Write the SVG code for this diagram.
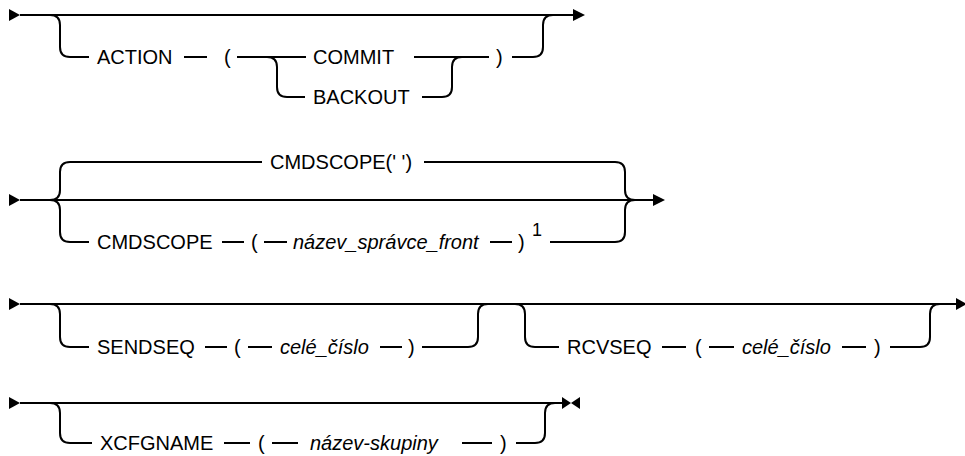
<svg xmlns="http://www.w3.org/2000/svg" width="965" height="456" viewBox="0 0 965 456">
<style>
.l{fill:none;stroke:#000;stroke-width:2}
.a{fill:#000;stroke:none}
.t{font-family:"Liberation Sans",Arial,sans-serif;font-size:20px;fill:#000}
.i{font-style:italic}
.s{font-family:"Liberation Sans",Arial,sans-serif;font-size:18px;fill:#000}
</style>
<rect width="965" height="456" fill="#fff"/>
<g id="connectors">
  <!-- row 1 -->
  <polygon class="a" points="9,9 20,15 9,21"/>
  <path class="l" d="M20 15 H573"/>
  <polygon class="a" points="573,9 585,15 573,21"/>
  <path class="l" d="M50 15 Q60 15 60 25 V47 Q60 57 70 57 H89"/>
  <path class="l" d="M184 57 H207"/>
  <path class="l" d="M237 57 H306"/>
  <path class="l" d="M267 57 Q277 57 277 67 V87 Q277 97 287 97 H305"/>
  <path class="l" d="M414 57 H489"/>
  <path class="l" d="M422 97 H442 Q452 97 452 87 V67 Q452 57 462 57"/>
  <path class="l" d="M512 57 H533 Q543 57 543 47 V25 Q543 15 553 15"/>
  <!-- row 2 -->
  <polygon class="a" points="9,194 20,200 9,206"/>
  <path class="l" d="M20 200 H653"/>
  <polygon class="a" points="653,194 665,200 653,206"/>
  <path class="l" d="M50 200 Q60 200 60 190 V172 Q60 162 70 162 H262"/>
  <path class="l" d="M50 200 Q60 200 60 210 V232 Q60 242 70 242 H89"/>
  <path class="l" d="M424 162 H615 Q625 162 625 172 V190 Q625 200 635 200"/>
  <path class="l" d="M222 242 H244"/>
  <path class="l" d="M264 242 H287"/>
  <path class="l" d="M490 242 H512"/>
  <path class="l" d="M550 242 H615 Q625 242 625 232 V210 Q625 200 635 200"/>
  <!-- row 3 -->
  <polygon class="a" points="9,298 20,304 9,310"/>
  <path class="l" d="M20 304 H956"/>
  <polygon class="a" points="956,298 967,304 956,310"/>
  <path class="l" d="M50 304 Q60 304 60 314 V337 Q60 347 70 347 H89"/>
  <path class="l" d="M205 347 H227"/>
  <path class="l" d="M248 347 H272"/>
  <path class="l" d="M380 347 H402"/>
  <path class="l" d="M422 347 H468 Q478 347 478 337 V314 Q478 304 488 304"/>
  <path class="l" d="M515 304 Q525 304 525 314 V337 Q525 347 535 347 H559"/>
  <path class="l" d="M662 347 H686"/>
  <path class="l" d="M709 347 H734"/>
  <path class="l" d="M842 347 H866"/>
  <path class="l" d="M890 347 H920 Q930 347 930 337 V314 Q930 304 940 304"/>
  <!-- row 4 -->
  <polygon class="a" points="9,397 20,403 9,409"/>
  <path class="l" d="M20 403 H563"/>
  <polygon class="a" points="562,397 571,403 562,409"/>
  <polygon class="a" points="580,397 571,403 580,409"/>
  <path class="l" d="M50 403 Q60 403 60 413 V433 Q60 443 70 443 H92"/>
  <path class="l" d="M224 443 H250"/>
  <path class="l" d="M272 443 H298"/>
  <path class="l" d="M462 443 H492"/>
  <path class="l" d="M516 443 H535 Q545 443 545 433 V413 Q545 403 555 403"/>
</g>
<g id="n-action"><text class="t" x="97" y="64">ACTION</text></g>
<g id="n-lp1"><text class="t" x="224" y="64">(</text></g>
<g id="n-commit"><text class="t" x="313" y="64">COMMIT</text></g>
<g id="n-backout"><text class="t" x="313" y="104">BACKOUT</text></g>
<g id="n-rp1"><text class="t" x="496" y="64">)</text></g>
<g id="n-cmdscope-default"><text class="t" x="270" y="169">CMDSCOPE(' ')</text></g>
<g id="n-cmdscope"><text class="t" x="97" y="249">CMDSCOPE</text></g>
<g id="n-lp2"><text class="t" x="251" y="249">(</text></g>
<g id="n-qmgr"><text class="t i" x="293" y="249">název_správce_front</text></g>
<g id="n-rp2"><text class="t" x="518" y="249">)</text></g>
<g id="n-note1"><text class="s" x="532" y="236">1</text></g>
<g id="n-sendseq"><text class="t" x="97" y="354">SENDSEQ</text></g>
<g id="n-lp3"><text class="t" x="234" y="354">(</text></g>
<g id="n-int1"><text class="t i" x="280" y="354">celé_číslo</text></g>
<g id="n-rp3"><text class="t" x="408" y="354">)</text></g>
<g id="n-rcvseq"><text class="t" x="567" y="354">RCVSEQ</text></g>
<g id="n-lp4"><text class="t" x="695" y="354">(</text></g>
<g id="n-int2"><text class="t i" x="742" y="354">celé_číslo</text></g>
<g id="n-rp4"><text class="t" x="874" y="354">)</text></g>
<g id="n-xcfgname"><text class="t" x="100" y="450">XCFGNAME</text></g>
<g id="n-lp5"><text class="t" x="258" y="450">(</text></g>
<g id="n-group"><text class="t i" x="310" y="450">název-skupiny</text></g>
<g id="n-rp5"><text class="t" x="500" y="450">)</text></g>
</svg>
